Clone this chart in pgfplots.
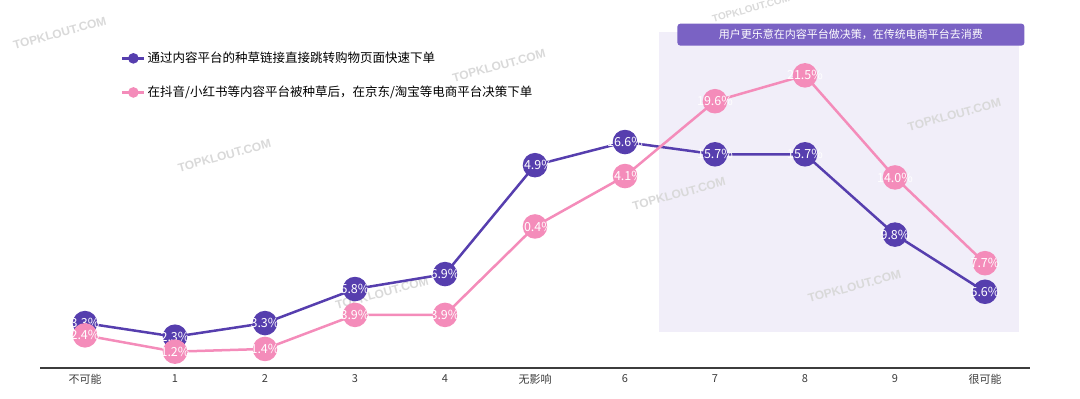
\documentclass[border=0pt]{standalone}
\usepackage{pgfplots}
\pgfplotsset{compat=1.18}
\usepackage{fontspec}
\setmainfont{Noto Sans CJK SC}
\newfontfamily\wm{Liberation Sans}
\definecolor{pur}{RGB}{86,62,174}
\definecolor{pnk}{RGB}{244,140,186}
\definecolor{bgshade}{RGB}{241,238,249}
\definecolor{boxc}{RGB}{122,98,196}
\definecolor{axc}{RGB}{60,60,60}
\begin{document}
\begin{tikzpicture}
\begin{axis}[
  set layers,
  at={(0pt,0pt)}, anchor=south west,
  scale only axis, width=990pt, height=358pt,
  xmin=-0.5, xmax=10.5, ymin=0, ymax=26.3,
  clip=false,
  axis x line*=bottom, axis y line=none,
  x axis line style={line width=1.6pt, color=axc, -},
  xtick={0,...,10},
  xticklabels={不可能,1,2,3,4,无影响,6,7,8,9,很可能},
  major tick length=0pt,
  xticklabel style={font=\fontsize{11}{12}\selectfont, text=axc, yshift=-3pt},
  /pgf/number format/assume math mode=true,
  legend style={at={(axis cs:0.366,23.5)}, anchor=north west, draw=none, fill=none,
    font=\fontsize{12.5}{14}\selectfont, row sep=18pt, cells={anchor=west}},
  legend cell align=left,
  legend image code/.code={\draw[line width=2.5pt] (0pt,0pt) -- (22pt,0pt); \fill (11pt,0pt) circle (4pt);},
  nodes near coords={\pgfmathprintnumber[fixed,precision=1,fixed zerofill]{\pgfplotspointmeta}\%},
  nodes near coords align={center},
  every node near coord/.append style={anchor=center, text=white, font=\fontsize{12.5}{12}\selectfont},
]
\begin{pgfonlayer}{axis background}
  \fill[bgshade] (axis cs:6.38,2.65) rectangle (axis cs:10.38,24.7);
  \begin{scope}[overlay, every node/.style={text=black!15, rotate=15, font=\wm\bfseries\fontsize{12}{12}\selectfont}]
    \node at (axis cs:-0.28,24.6) {TOPKLOUT.COM};
    \node at (axis cs:1.55,15.6) {TOPKLOUT.COM};
    \node at (axis cs:4.6,22.2) {TOPKLOUT.COM};
    \node at (axis cs:3.3,5.5) {TOPKLOUT.COM};
    \node at (axis cs:6.6,12.8) {TOPKLOUT.COM};
    \node at (axis cs:8.55,6.0) {TOPKLOUT.COM};
    \node at (axis cs:9.66,18.6) {TOPKLOUT.COM};
    \node[font=\wm\bfseries\fontsize{10}{10}\selectfont] at (axis cs:7.4,26.4) {TOPKLOUT.COM};
  \end{scope}
\end{pgfonlayer}
\addplot[pur, line width=2.5pt, mark=*, mark size=11pt, mark options={fill=pur, draw=pur}]
  coordinates {(0,3.3) (1,2.3) (2,3.3) (3,5.8) (4,6.9) (5,14.9) (6,16.6) (7,15.7) (8,15.7) (9,9.8) (10,5.6)};
\addlegendentry{通过内容平台的种草链接直接跳转购物页面快速下单}
\addplot[pnk, line width=2.5pt, mark=*, mark size=11pt, mark options={fill=pnk, draw=pnk}]
  coordinates {(0,2.4) (1,1.2) (2,1.4) (3,3.9) (4,3.9) (5,10.4) (6,14.1) (7,19.6) (8,21.5) (9,14.0) (10,7.7)};
\addlegendentry{在抖音/小红书等内容平台被种草后，在京东/淘宝等电商平台决策下单}
\node[overlay, fill=boxc, rounded corners=3pt, text=white, minimum width=347pt, minimum height=22pt,
  inner sep=0pt, font=\fontsize{11}{12}\selectfont] at (axis cs:8.51,24.49)
  {用户更乐意在内容平台做决策，在传统电商平台去消费};
\end{axis}
\path (-40pt,-31pt) rectangle (1040pt,368pt);
\end{tikzpicture}
\end{document}
